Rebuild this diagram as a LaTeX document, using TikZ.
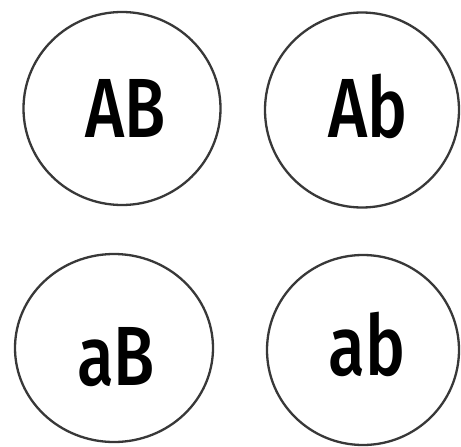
\documentclass[tikz,border=0pt]{standalone}
\usepackage{fontspec}
\newfontfamily\lblfont{Fira Sans}[FakeStretch=0.8, UprightFont=* Medium]
\usetikzlibrary{shapes.geometric}
\begin{document}
\begin{tikzpicture}[x=1pt,y=-1pt,
  gamete/.style={draw=black!78, line width=2.3pt, ellipse, inner sep=0pt},
  lbl/.style={anchor=base, inner sep=0pt, font=\lblfont\fontsize{84}{84}\selectfont}]
\useasboundingbox (0,0) rectangle (461,447);
\fill[white] (0,0) rectangle (461,447);
\node[gamete, minimum width=197pt, minimum height=193pt] (g1) at (122,108.5) {};
\node[gamete, minimum width=194pt, minimum height=195pt] (g2) at (362,110) {};
\node[gamete, minimum width=198pt, minimum height=188pt] (g3) at (114,348) {};
\node[gamete, minimum width=192pt, minimum height=190pt] (g4) at (363,350) {};
\node[lbl] (t1) at (126,137) {AB};
\node[lbl] (t2) at (368,137) {Ab};
\node[lbl] (t3) at (116,385) {aB};
\node[lbl] (t4) at (367,375) {ab};
\end{tikzpicture}
\end{document}
